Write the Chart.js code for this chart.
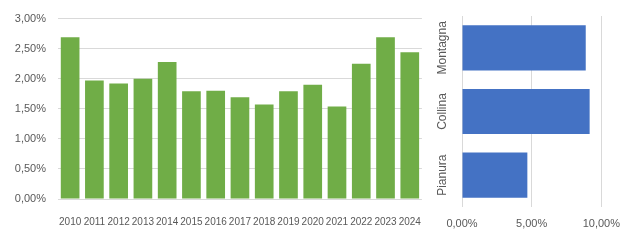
<!DOCTYPE html>
<html>
<head>
<meta charset="utf-8">
<script src="https://cdn.jsdelivr.net/npm/chart.js@4"></script>
<style>
  body { margin: 0; background: #fff; }
  #wrap { position: relative; width: 630px; height: 240px; }
  #years { position: absolute; left: 0; top: 0; }
  #zones { position: absolute; left: 430px; top: 0; }
</style>
</head>
<body>
<div id="wrap">
  <canvas id="years" width="430" height="240"></canvas>
  <canvas id="zones" width="200" height="240"></canvas>
</div>
<script>
// yearly values (%)
const years = ['2010', '2011', '2012', '2013', '2014', '2015', '2016', '2017', '2018', '2019', '2020', '2021', '2022', '2023', '2024'];
const yearRates = [2.69, 1.97, 1.92, 2.00, 2.28, 1.79, 1.80, 1.69, 1.57, 1.79, 1.90, 1.54, 2.25, 2.69, 2.44];

// by altitude zone (%)
const zones = ['Montagna', 'Collina', 'Pianura'];
const zoneRates = [8.88, 9.16, 4.69];

const textColor = '#595959';
const gridColor = '#d9d9d9';
const fontFamily = '"Liberation Sans", Arial, sans-serif';

function pct(v) {
  return v.toFixed(2).replace('.', ',') + '%';
}

new Chart(document.getElementById('years'), {
  type: 'bar',
  data: {
    labels: years,
    datasets: [{
      data: yearRates,
      backgroundColor: '#70ad47',
      categoryPercentage: 1,
      barPercentage: 0.77
    }]
  },
  options: {
    responsive: false,
    animation: false,
    layout: { padding: { top: 16, right: 3, left: 0, bottom: 0 } },
    plugins: { legend: { display: false }, tooltip: { enabled: false } },
    scales: {
      x: {
        grid: { display: false },
        border: { display: false },
        ticks: {
          color: textColor,
          font: { family: fontFamily, size: 10 },
          maxRotation: 0,
          minRotation: 0,
          autoSkip: false,
          padding: 9
        },
        afterFit: (scale) => { scale.height = 41; }
      },
      y: {
        min: 0,
        max: 3,
        grid: { color: gridColor, drawTicks: false },
        border: { display: false },
        ticks: {
          stepSize: 0.5,
          color: textColor,
          font: { family: fontFamily, size: 11 },
          padding: 12,
          callback: (v) => pct(v)
        },
        afterFit: (scale) => { scale.width = 58; }
      }
    }
  }
});

new Chart(document.getElementById('zones'), {
  type: 'bar',
  data: {
    labels: zones,
    datasets: [{
      data: zoneRates,
      backgroundColor: '#4472c4',
      categoryPercentage: 1,
      barPercentage: 0.71
    }]
  },
  options: {
    indexAxis: 'y',
    responsive: false,
    animation: false,
    layout: { padding: { top: 16, right: 25, left: 0, bottom: 0 } },
    plugins: { legend: { display: false }, tooltip: { enabled: false } },
    scales: {
      x: {
        min: 0,
        max: 10,
        grid: { color: gridColor, drawTicks: false },
        border: { display: false },
        ticks: {
          stepSize: 5,
          color: textColor,
          font: { family: fontFamily, size: 11 },
          padding: 10,
          callback: (v) => pct(v)
        },
        afterFit: (scale) => { scale.height = 33; }
      },
      y: {
        grid: { display: false },
        border: { display: false },
        ticks: {
          color: textColor,
          font: { family: fontFamily, size: 12 },
          minRotation: 90,
          maxRotation: 90,
          crossAlign: 'center',
          padding: -15
        },
        afterFit: (scale) => { scale.width = 32; }
      }
    }
  }
});
</script>
</body>
</html>
